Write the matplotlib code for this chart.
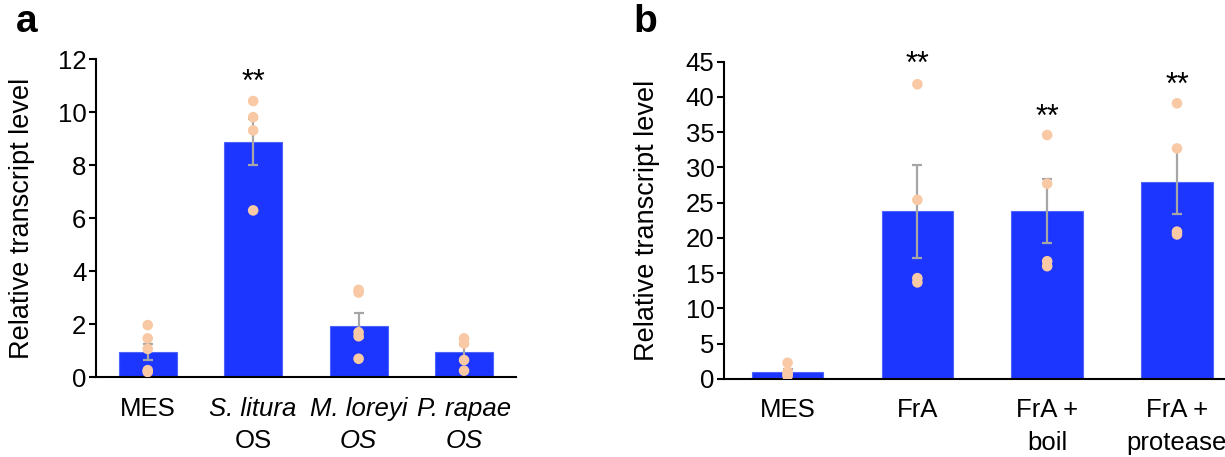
import matplotlib
matplotlib.use("Agg")
import matplotlib.pyplot as plt
import numpy as np

plt.rcParams['font.family'] = ['Liberation Sans', 'DejaVu Sans']

# panel a
groups_a = ["MES", "S. litura\nOS", "M. loreyi\nOS", "P. rapae\nOS"]
italic_a = [[False], [True, False], [True, True], [True, True]]
means_a = [0.95, 8.89, 1.95, 0.94]
se_a = [0.30, 0.87, 0.46, 0.27]
points_a = [[1.97, 1.47, 1.07, 0.27, 0.20],
            [10.43, 9.82, 9.32, 6.30],
            [3.30, 3.20, 1.70, 1.55, 0.70],
            [1.47, 1.28, 0.65, 0.25]]
stars_a = ["", "**", "", ""]
star_y_a = [0, 10.8, 0, 0]

# panel b
groups_b = ["MES", "FrA", "FrA +\nboil", "FrA +\nprotease"]
italic_b = [[False], [False], [False, False], [False, False]]
means_b = [1.04, 23.8, 23.8, 28.0]
se_b = [0.35, 6.6, 4.5, 4.6]
points_b = [[2.3, 1.0, 0.7, 0.4],
            [41.8, 25.4, 14.3, 13.7],
            [34.6, 27.7, 16.7, 16.0],
            [39.1, 32.7, 20.9, 20.5]]
stars_b = ["", "**", "**", "**"]
star_y_b = [0, 43.4, 35.9, 40.4]

bar_color = '#1c36ff'
dot_color = '#f8c9a4'
err_color = '#a6a6a6'
fs = 18.5

fig = plt.figure(figsize=(12.25, 4.57), dpi=100)
ax1 = fig.add_axes([0.0784, 0.1744, 0.3426, 0.6956])
ax2 = fig.add_axes([0.591, 0.1707, 0.409, 0.6943])


def draw(ax, groups, italic, means, se, points, stars, star_y, ylim, step, xmax, label_x):
    x = np.arange(len(groups))
    ax.bar(x, means, width=0.55, color=bar_color, edgecolor='#5064ff', linewidth=0.8, zorder=2)
    ax.errorbar(x, means, yerr=se, fmt='none', ecolor=err_color, elinewidth=1.6,
                capsize=3.5, capthick=1.6, zorder=3)
    for i, pts in enumerate(points):
        ax.scatter([x[i]] * len(pts), pts, s=58, color=dot_color, edgecolors='none', zorder=4)
    for i, s in enumerate(stars):
        if s:
            ax.text(x[i], star_y[i], s, ha='center', va='baseline', fontsize=22,
                    clip_on=False)
    # category labels, one text per line so italics can differ
    for i, g in enumerate(groups):
        for j, line in enumerate(g.split("\n")):
            ax.annotate(line, xy=(x[i], 0), xycoords=('data', 'axes fraction'),
                        xytext=(0, -22.5 - 23.5 * j), textcoords='offset points',
                        ha='center', va='center', fontsize=fs,
                        style='italic' if italic[i][j] else 'normal')
    ax.set_xticks(x)
    ax.set_xticklabels([""] * len(groups))
    ax.tick_params(axis='x', length=0)
    ax.set_xlim(-0.49, xmax)
    ax.set_ylim(*ylim)
    ax.set_yticks(np.arange(ylim[0], ylim[1] + 1, step))
    ax.tick_params(axis='y', direction='out', length=5, width=1.5, labelsize=fs, pad=2)
    for sp in ['top', 'right']:
        ax.spines[sp].set_visible(False)
    for sp in ['left', 'bottom']:
        ax.spines[sp].set_linewidth(1.5)
    ax.set_ylabel("Relative transcript level", fontsize=19.5)
    ax.yaxis.set_label_coords(label_x, 0.5)


draw(ax1, groups_a, italic_a, means_a, se_a, points_a, stars_a, star_y_a, (0, 12), 2, 3.49, -0.145)
draw(ax2, groups_b, italic_b, means_b, se_b, points_b, stars_b, star_y_b, (0, 45), 5, 3.37, -0.128)

fig.text(0.013, 0.952, "a", fontsize=28, fontweight='bold', va='center')
fig.text(0.517, 0.952, "b", fontsize=28, fontweight='bold', va='center')

fig.savefig("out.png", dpi=100)
